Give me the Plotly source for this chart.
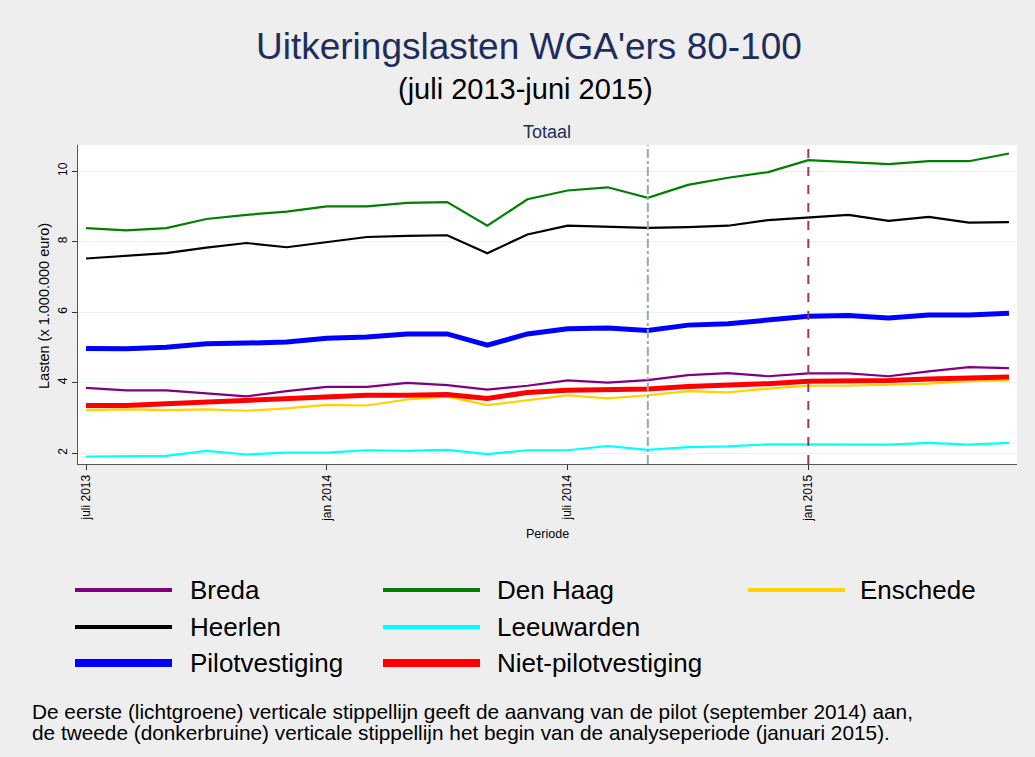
import plotly.graph_objects as go

# maanden juli 2013 .. juni 2015 (index 0..23)
months = list(range(24))
tick_pos = [0, 6, 12, 18]
tick_labels = ["juli 2013", "jan 2014", "juli 2014", "jan 2015"]

breda = [3.85, 3.78, 3.78, 3.70, 3.61, 3.76, 3.88, 3.88, 3.99, 3.93, 3.80, 3.91,
         4.06, 4.00, 4.07, 4.21, 4.27, 4.18, 4.26, 4.26, 4.18, 4.32, 4.44, 4.41]
den_haag = [8.38, 8.32, 8.38, 8.64, 8.76, 8.85, 9.00, 9.00, 9.10, 9.12, 8.45, 9.20,
            9.45, 9.54, 9.24, 9.61, 9.81, 9.97, 10.31, 10.25, 10.20, 10.28, 10.28, 10.50]
enschede = [3.22, 3.24, 3.22, 3.24, 3.20, 3.27, 3.37, 3.35, 3.52, 3.60, 3.36, 3.50,
            3.64, 3.55, 3.64, 3.76, 3.72, 3.83, 3.91, 3.91, 3.93, 3.97, 4.04, 4.06]
heerlen = [7.52, 7.60, 7.67, 7.83, 7.96, 7.84, 7.99, 8.13, 8.16, 8.18, 7.67, 8.20,
           8.45, 8.43, 8.39, 8.41, 8.45, 8.61, 8.68, 8.76, 8.59, 8.70, 8.54, 8.55]
leeuwarden = [1.90, 1.92, 1.92, 2.06, 1.96, 2.01, 2.01, 2.08, 2.06, 2.09, 1.97, 2.08,
              2.08, 2.20, 2.09, 2.17, 2.19, 2.25, 2.25, 2.26, 2.24, 2.29, 2.24, 2.29]
pilot = [4.97, 4.96, 5.00, 5.10, 5.12, 5.15, 5.26, 5.29, 5.38, 5.38, 5.06, 5.38,
         5.53, 5.55, 5.48, 5.63, 5.67, 5.77, 5.88, 5.90, 5.83, 5.92, 5.92, 5.97]
niet_pilot = [3.35, 3.35, 3.40, 3.45, 3.48, 3.54, 3.58, 3.64, 3.64, 3.66, 3.55, 3.72,
              3.78, 3.80, 3.82, 3.89, 3.92, 3.97, 4.04, 4.04, 4.06, 4.10, 4.12, 4.16]

names = ["Breda", "Den Haag", "Enschede", "Heerlen", "Leeuwarden",
         "Pilotvestiging", "Niet-pilotvestiging"]
series = [breda, den_haag, enschede, heerlen, leeuwarden, pilot, niet_pilot]
colors = ["#800080", "#008000", "#FFD200", "#000000", "#00FFFF", "#0000FF", "#FF0000"]
widths = [2.2, 2.2, 2.2, 2.2, 2.2, 5, 5]
# (rij, kolom) in de legenda
legend_pos = [(0, 0), (0, 1), (0, 2), (1, 0), (1, 1), (2, 0), (2, 1)]

W, H = 1035, 757
L, R, T, B = 78, 1017, 145, 464
FONT = "Liberation Sans, Arial, sans-serif"
NAVY = "#1F2D5C"


def px(x):
    return (x - L) / (R - L)


def py(y):
    return (B - y) / (B - T)


def label(text, x, y, size, color="black", **kw):
    d = dict(text=text, xref="paper", yref="paper", x=px(x), y=py(y),
             xanchor="center", yanchor="middle", showarrow=False,
             font=dict(size=size, color=color))
    d.update(kw)
    return d


fig = go.Figure()
# dunne lijnen eerst, dikke erbovenop
order = [4, 2, 0, 3, 1, 6, 5]
for i in order:
    fig.add_trace(go.Scatter(x=months, y=series[i], mode="lines", name=names[i],
                             line=dict(color=colors[i], width=widths[i]),
                             showlegend=False))

# verticale stippellijnen: sep 2014 en jan 2015
fig.add_vline(x=14, line=dict(color="#8FB0A6", width=2, dash="dashdot"))
fig.add_vline(x=18, line=dict(color="#9E3B45", width=2, dash="dash"))

shapes = []
shapes.append(dict(type="rect", xref="paper", yref="paper", x0=px(0.5), x1=px(W - 0.5),
                   y0=py(0.5), y1=py(H - 0.5), line=dict(color="#D4D4D4", width=1),
                   fillcolor="rgba(0,0,0,0)", layer="above"))
shapes.append(dict(type="rect", xref="paper", yref="paper", x0=px(65), x1=px(990),
                   y0=py(563), y1=py(685), line=dict(width=0), fillcolor="white",
                   layer="above"))

annotations = []
col_sw = [75, 383, 748]
col_tx = [188, 495, 858]
row_y = [590, 627, 663]
for name, col, wd, (r, c) in zip(names, colors, widths, legend_pos):
    shapes.append(dict(type="line", xref="paper", yref="paper",
                       x0=px(col_sw[c]), x1=px(col_sw[c] + 97),
                       y0=py(row_y[r]), y1=py(row_y[r]),
                       line=dict(color=col, width=4 if wd < 3 else 8), layer="above"))
    annotations.append(label(name, col_tx[c], row_y[r], 26, xanchor="left"))

annotations += [
    label("Uitkeringslasten WGA'ers 80-100", 529, 46, 37, NAVY),
    label("(juli 2013-juni 2015)", 525, 89, 29),
    label("Totaal", 547, 132, 18, NAVY),
    label("Lasten (x 1.000.000 euro)", 44, 306, 14.5, textangle=-90),
    label("Periode", 547, 534, 12.5),
    label("De eerste (lichtgroene) verticale stippellijn geeft de aanvang van de pilot "
          "(september 2014) aan,", 30, 711, 20.8, xanchor="left"),
    label("de tweede (donkerbruine) verticale stippellijn het begin van de "
          "analyseperiode (januari 2015).", 30, 732, 20.8, xanchor="left"),
]

fig.update_layout(
    width=W, height=H,
    margin=dict(l=L, r=W - R, t=T, b=H - B),
    paper_bgcolor="#EEEEEE", plot_bgcolor="white",
    font=dict(family=FONT, color="black"),
    shapes=shapes, annotations=annotations,
)
fig.update_xaxes(range=[-0.2, 23.2], tickvals=tick_pos, ticktext=tick_labels,
                 tickangle=-90, ticks="outside", ticklen=5, tickcolor="#333333",
                 tickfont=dict(size=12), showgrid=False, zeroline=False,
                 showline=True, linecolor="#555555", linewidth=1)
fig.update_yaxes(range=[1.69, 10.74], tickvals=[2, 4, 6, 8, 10], tickangle=-90,
                 ticks="outside", ticklen=5, tickcolor="#333333",
                 tickfont=dict(size=12), showgrid=True, gridcolor="#EAF2F3",
                 gridwidth=1, zeroline=False, showline=True, linecolor="#555555",
                 linewidth=1)

fig.write_html("out.html", config={"displayModeBar": False},
               post_script="document.body.style.margin='0';")
